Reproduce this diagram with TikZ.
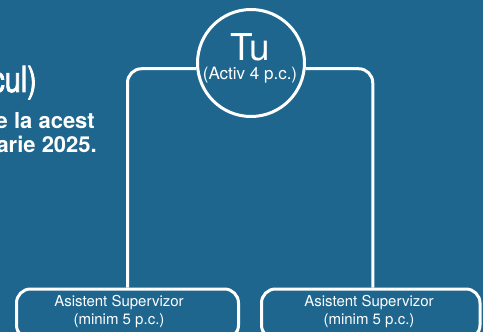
\documentclass[tikz,border=0pt]{standalone}
\usepackage{fontspec}
\setmainfont{TeX Gyre Heros}
\newfontfamily\narrowheros[FakeStretch=0.8,FakeBold=2]{TeX Gyre Heros}
\usetikzlibrary{positioning}
\definecolor{bgblue}{HTML}{1E668E}

\begin{document}
\begin{tikzpicture}[x=1pt,y=-1pt,
    ring/.style={circle,draw=white,line width=3pt,minimum size=107pt,inner sep=0pt},
    rolebox/.style={draw=white,line width=3pt,rounded corners=14pt,minimum height=50pt,anchor=north,inner sep=0pt},
    roletext/.style={text=white,font=\fontsize{15}{18}\selectfont,align=center,inner sep=0pt},
    introtext/.style={text=white,inner sep=0pt,anchor=base east},
    link/.style={draw=white,line width=3pt,rounded corners=14pt}]
       \fill[bgblue] (0,0) rectangle (483,332);
       \useasboundingbox (0,0) rectangle (483,332);
       \clip (0,0) rectangle (483,332);

       % text cut off at the left edge
       \node[introtext,font=\narrowheros\fontsize{36}{40}\selectfont] (introA) at (37,92) {cul)};
       \node[introtext,font=\bfseries\fontsize{22}{25}\selectfont] (introB) at (95,128) {e la acest};
       \node[introtext,font=\bfseries\fontsize{22}{25}\selectfont] (introC) at (97,152) {arie 2025.};

       \node[ring] (tu) at (251,63) {};
       \node[text=white,inner sep=0pt,anchor=base,font=\fontsize{37}{40}\selectfont] (tuname) at (250,60) {Tu};
       \node[text=white,inner sep=0pt,anchor=base,font=\fontsize{17}{20}\selectfont] (tunote) at (250,79) {(Activ 4 p.c.)};

       \node[rolebox,minimum width=222pt] (asistA) at (127.5,287.5) {};
       \node[rolebox,minimum width=218.5pt] (asistB) at (370.75,287.5) {};
       \node[roletext] (asistAtext) at (119,312) {Asistent Supervizor\\(minim 5 p.c.)};
       \node[roletext] (asistBtext) at (369,312) {Asistent Supervizor\\(minim 5 p.c.)};

       \draw[link] (tu.186) -| (asistA.north);
       \draw[link] (tu.-6) -| ([xshift=2pt]asistB.north);
     \end{tikzpicture}
\end{document}
